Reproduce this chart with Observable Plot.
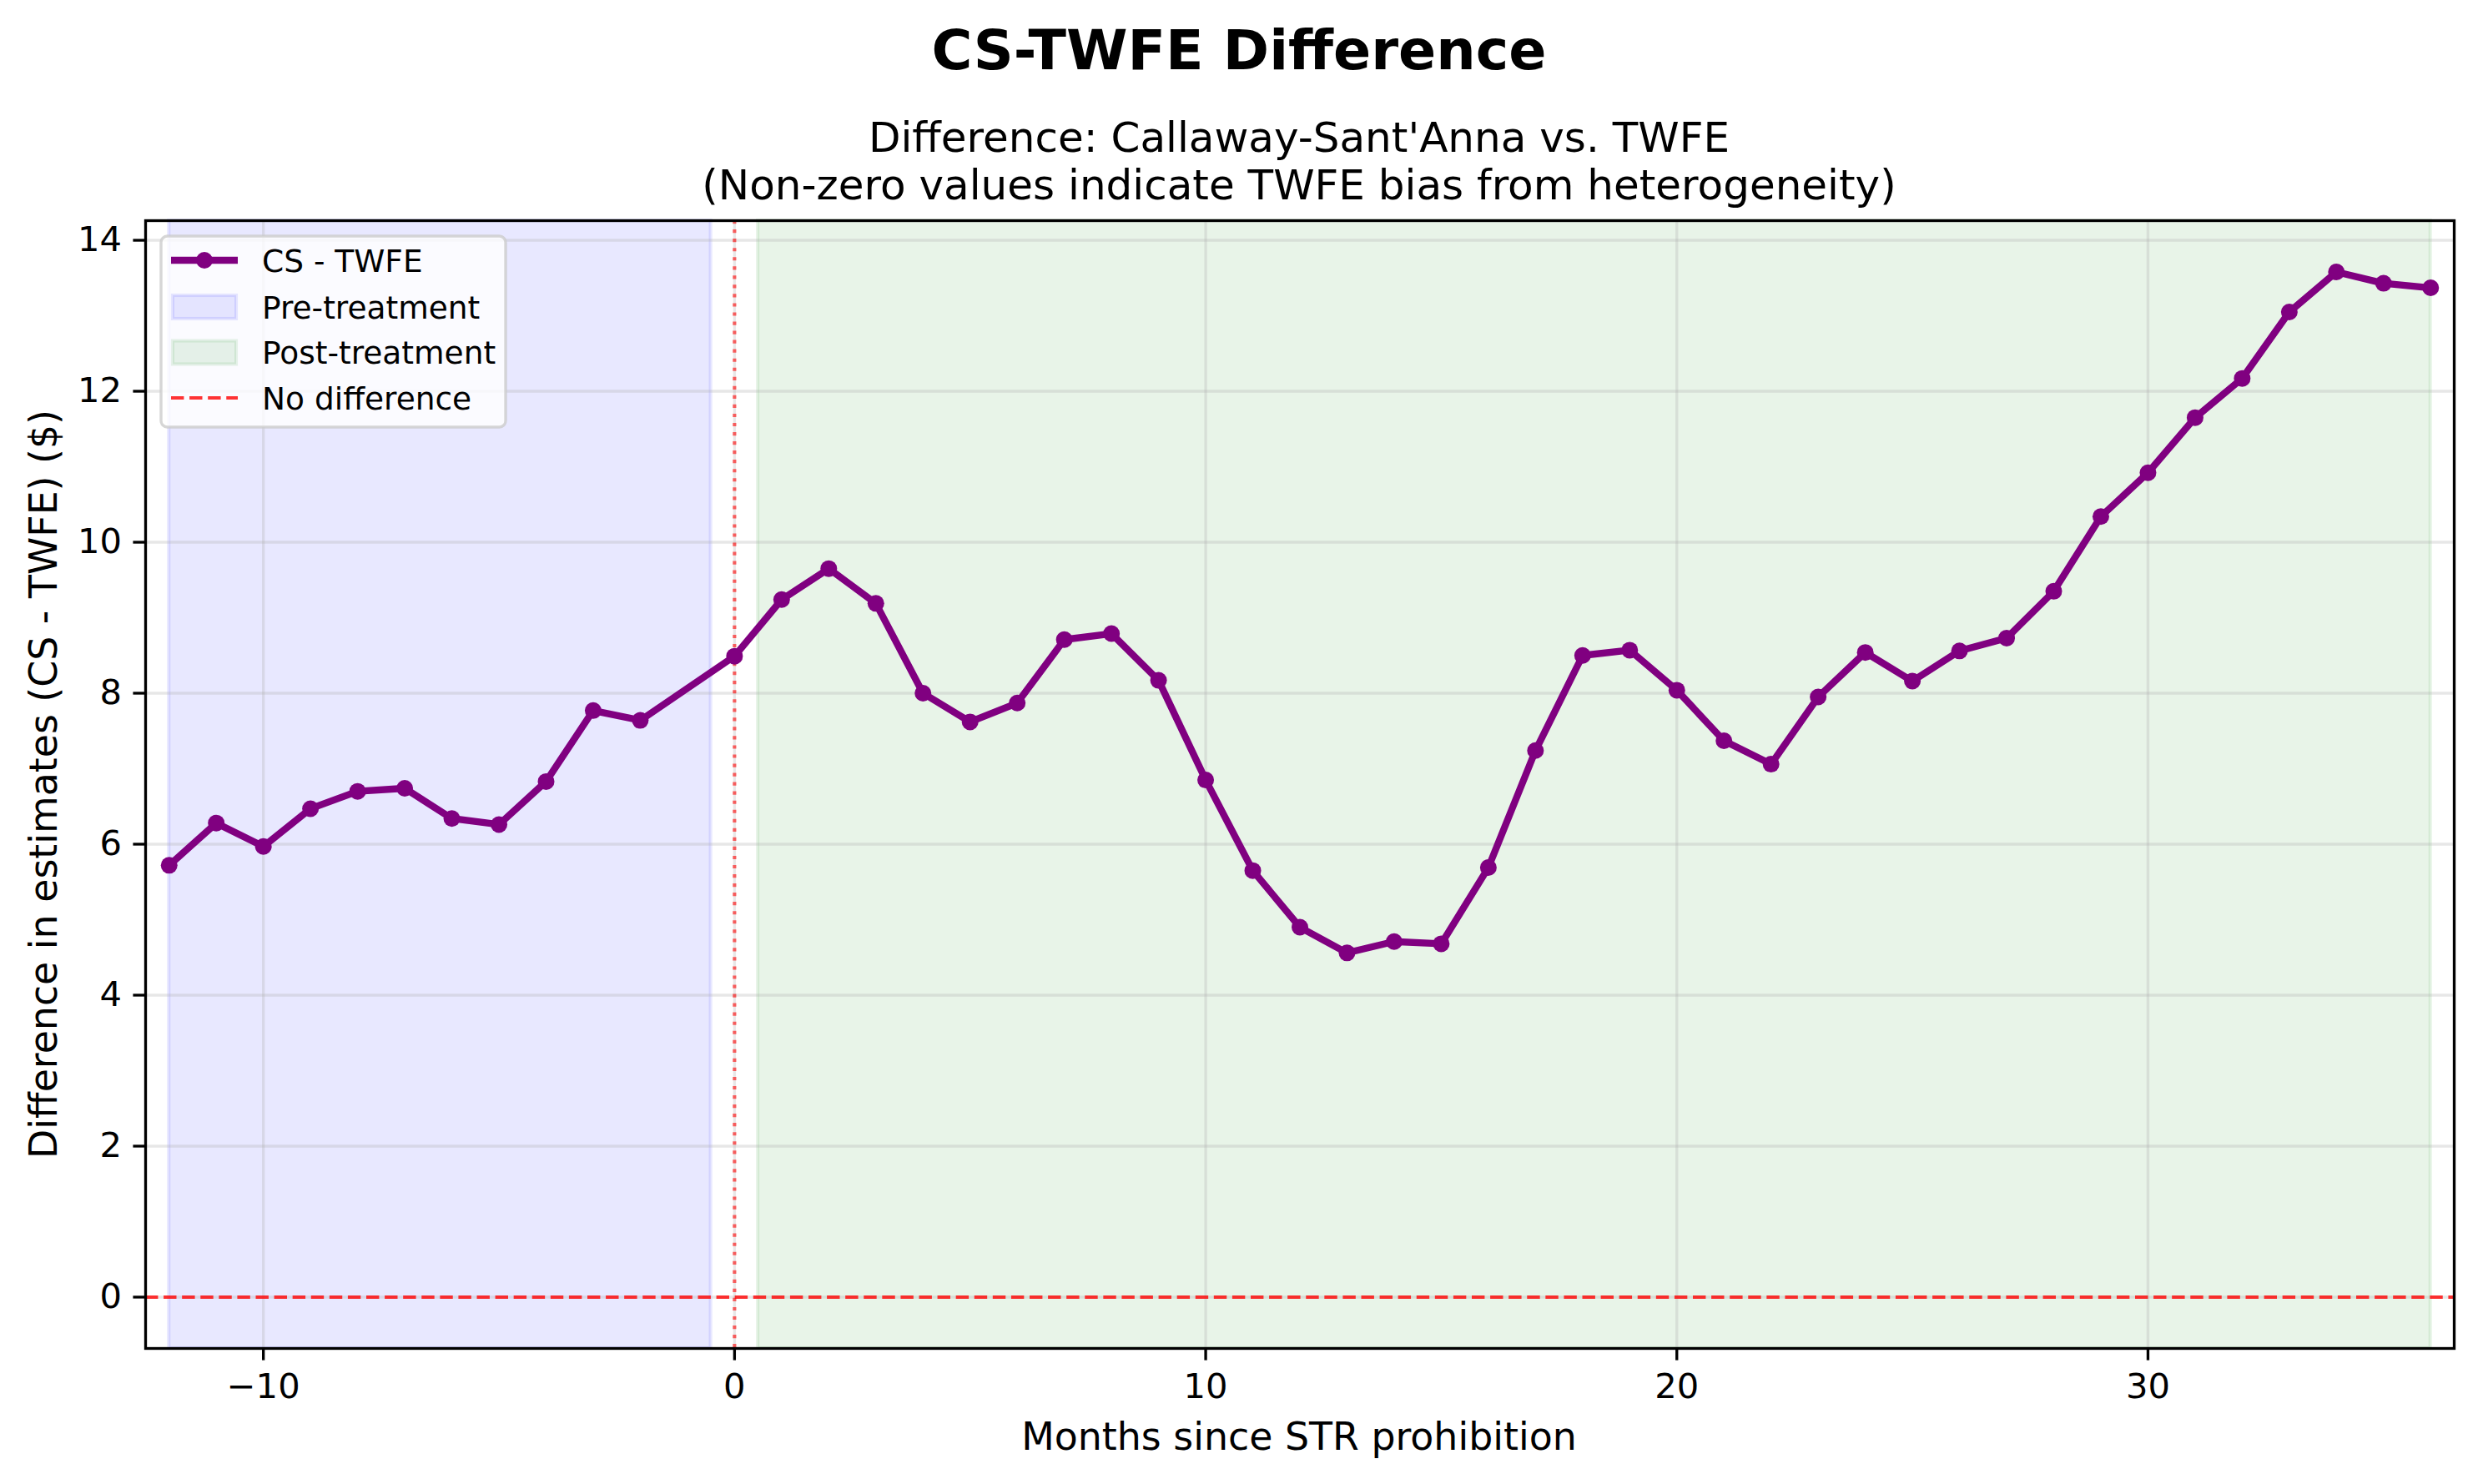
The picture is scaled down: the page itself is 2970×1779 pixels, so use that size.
<!DOCTYPE html>
<html>
<head>
<meta charset="utf-8">
<script src="https://cdn.jsdelivr.net/npm/d3@7"></script>
<script src="https://cdn.jsdelivr.net/npm/@observablehq/plot@0.6"></script>
<style>
  html, body { margin: 0; padding: 0; background: #fff; }
  #wrap { position: relative; width: 2970px; height: 1779px; background: #fff; font-family: "DejaVu Sans", sans-serif; }
  #chart, #overlay { position: absolute; left: 0; top: 0; }
</style>
</head>
<body>
<div id="wrap">
  <div id="chart"></div>
  <svg id="overlay" width="2970" height="1779" xmlns="http://www.w3.org/2000/svg"></svg>
</div>
<script>
// ---- Data ----
const months = [-12, -11, -10, -9, -8, -7, -6, -5, -4, -3, -2,
  0, 1, 2, 3, 4, 5, 6, 7, 8, 9, 10, 11, 12, 13, 14, 15, 16, 17, 18, 19, 20,
  21, 22, 23, 24, 25, 26, 27, 28, 29, 30, 31, 32, 33, 34, 35, 36];
const diffValues = [5.72, 6.28, 5.97, 6.47, 6.70, 6.74, 6.34, 6.26, 6.83, 7.77, 7.64,
  8.49, 9.24, 9.65, 9.19, 8.00, 7.62, 7.87, 8.71, 8.79, 8.17, 6.85, 5.65, 4.90, 4.56, 4.71, 4.68, 5.69, 7.24, 8.50, 8.57,
  8.04, 7.37, 7.06, 7.95, 8.54, 8.16, 8.56, 8.73, 9.35, 10.34, 10.92, 11.65, 12.17, 13.05, 13.58, 13.43, 13.37];
const periodNames = ["Pre-treatment", "Post-treatment"];
const periodStart = [-12, 0.5];
const periodEnd = [-0.5, 36];
const xTicks = [-10, 0, 10, 20, 30];
const yTicks = [0, 2, 4, 6, 8, 10, 12, 14];

const series = months.map((m, i) => ({month: m, value: diffValues[i]}));
const periods = periodNames.map((n, i) => ({name: n, start: periodStart[i], end: periodEnd[i]}));
const periodColor = {"Pre-treatment": "blue", "Post-treatment": "green"};

const PT = 300 / 72; // px per point
const intFmt = d3.format("d");

const chart = Plot.plot({
  width: 2970,
  height: 1779,
  marginLeft: 174,
  marginRight: 29,
  marginTop: 264,
  marginBottom: 163,
  style: {fontFamily: "DejaVu Sans", fontSize: `${10 * PT}px`, background: "white", color: "black"},
  x: {domain: [-12.5, 36.5], axis: null},
  y: {domain: [-0.68, 14.26], axis: null},
  marks: [
    Plot.rect(periods, {x1: "start", x2: "end", fill: d => periodColor[d.name], fillOpacity: 0.09,
      stroke: d => periodColor[d.name], strokeOpacity: 0.09, strokeWidth: 1 * PT}),
    Plot.gridX(xTicks, {stroke: "#b0b0b0", strokeOpacity: 0.3, strokeWidth: 0.8 * PT}),
    Plot.gridY(yTicks, {stroke: "#b0b0b0", strokeOpacity: 0.3, strokeWidth: 0.8 * PT}),
    Plot.ruleY([0], {stroke: "red", strokeOpacity: 0.8, strokeWidth: 1 * PT, strokeDasharray: `${3.7 * PT},${1.6 * PT}`}),
    Plot.ruleX([0], {stroke: "red", strokeOpacity: 0.6, strokeWidth: 1 * PT, strokeDasharray: `${1 * PT},${1.65 * PT}`}),
    Plot.line(series, {x: "month", y: "value", stroke: "purple", strokeWidth: 2 * PT}),
    Plot.dot(series, {x: "month", y: "value", r: 10, fill: "purple", stroke: "none"}),
    Plot.axisX(xTicks, {tickSize: 3.5 * PT, tickPadding: 15, strokeWidth: 0.8 * PT, fontSize: 10 * PT, label: null, tickFormat: intFmt}),
    Plot.axisY(yTicks, {tickSize: 3.5 * PT, tickPadding: 14, strokeWidth: 0.8 * PT, fontSize: 10 * PT, label: null, tickFormat: intFmt}),
    Plot.frame({stroke: "black", strokeWidth: 0.8 * PT})
  ]
});
document.getElementById("chart").appendChild(chart);

// ---- Overlay: titles, axis labels, legend ----
const ov = d3.select("#overlay").style("font-family", "DejaVu Sans");
ov.append("text").attr("x", 1485).attr("y", 83).attr("text-anchor", "middle")
  .attr("font-size", 16 * PT).attr("font-weight", "bold").text("CS-TWFE Difference");
ov.append("text").attr("x", 1557).attr("y", 182).attr("text-anchor", "middle")
  .attr("font-size", 12 * PT).text("Difference: Callaway-Sant'Anna vs. TWFE");
ov.append("text").attr("x", 1557).attr("y", 238.5).attr("text-anchor", "middle")
  .attr("font-size", 12 * PT).text("(Non-zero values indicate TWFE bias from heterogeneity)");
ov.append("text").attr("x", 1557).attr("y", 1738).attr("text-anchor", "middle")
  .attr("font-size", 11 * PT).text("Months since STR prohibition");
ov.append("text").attr("transform", "translate(68,940) rotate(-90)").attr("text-anchor", "middle")
  .attr("font-size", 11 * PT).text("Difference in estimates (CS - TWFE) ($)");

const lg = ov.append("g");
lg.append("rect").attr("x", 193).attr("y", 283).attr("width", 413).attr("height", 229).attr("rx", 7.5)
  .attr("fill", "white").attr("fill-opacity", 0.8).attr("stroke", "#cccccc").attr("stroke-opacity", 0.8)
  .attr("stroke-width", 0.8 * PT);
const rowsY = [312, 368, 422.5, 477];
const fs = 9 * PT;
// line entry
lg.append("line").attr("x1", 205).attr("x2", 285).attr("y1", rowsY[0]).attr("y2", rowsY[0])
  .attr("stroke", "purple").attr("stroke-width", 2 * PT);
lg.append("circle").attr("cx", 245).attr("cy", rowsY[0]).attr("r", 10).attr("fill", "purple");
// patches
periodNames.forEach((n, i) => {
  lg.append("rect").attr("x", 207).attr("y", rowsY[i + 1] - 14).attr("width", 76).attr("height", 28)
    .attr("fill", periodColor[n]).attr("fill-opacity", 0.09)
    .attr("stroke", periodColor[n]).attr("stroke-opacity", 0.09).attr("stroke-width", 1 * PT);
});
lg.append("line").attr("x1", 205).attr("x2", 285).attr("y1", rowsY[3]).attr("y2", rowsY[3])
  .attr("stroke", "red").attr("stroke-opacity", 0.8).attr("stroke-width", 1 * PT)
  .attr("stroke-dasharray", `${3.7 * PT},${1.6 * PT}`);
const labels = ["CS - TWFE", periodNames[0], periodNames[1], "No difference"];
labels.forEach((t, i) => {
  lg.append("text").attr("x", 314).attr("y", rowsY[i] + 13.5).attr("font-size", fs).text(t);
});
</script>
</body>
</html>
